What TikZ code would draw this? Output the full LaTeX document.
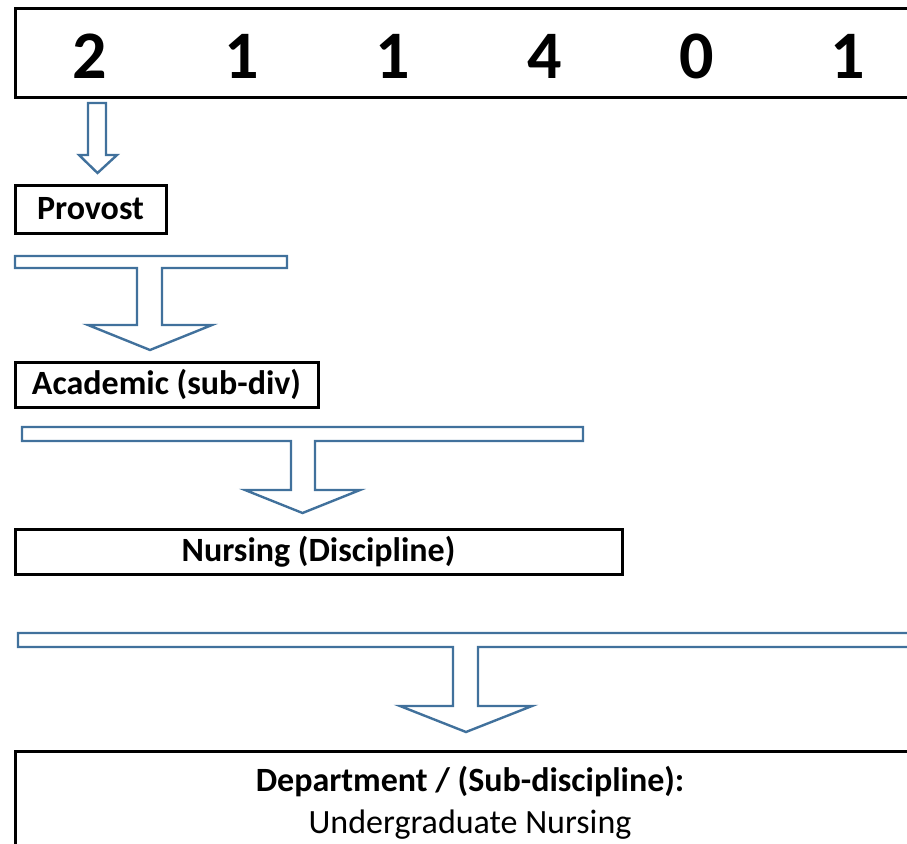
\documentclass[tikz,border=0pt]{standalone}
\usepackage{fontspec}
\setmainfont{Carlito}
\definecolor{arrowblue}{RGB}{65,113,156}
\begin{document}
\begin{tikzpicture}[x=1pt,y=-1pt,
  box/.style={draw=black,line width=3pt,inner sep=0pt,font=\bfseries\fontsize{34}{40}\selectfont},
  label/.style={inner sep=0pt,font=\fontsize{34}{40}\selectfont},
  digit/.style={inner sep=0pt,font=\bfseries\fontsize{68}{80}\selectfont},
  hollow/.style={draw=arrowblue,line width=2.4pt,fill=white,line join=miter}]
\useasboundingbox (0,0) rectangle (907,843);
\clip (0,0) rectangle (907,843);

% code strip
\draw[line width=3pt] (930,9) -- (15,9) -- (15,97) -- (930,97);
\foreach \d/\x [count=\i] in {2/90,1/242,1/393,4/545,0/697,1/848}
  \node[digit] (d\i) at (\x,56) {\d};

% hierarchy boxes
\node[box,minimum width=151pt,minimum height=48pt] (provost) at (90.5,209) {Provost};
\node[box,minimum width=303pt,minimum height=45pt] (academic) at (166.5,384.5) {Academic (sub-div)};
\node[box,minimum width=607pt,minimum height=45pt] (nursing) at (318.5,552) {Nursing (Discipline)};
\draw[line width=3pt] (930,751) -- (15,751) -- (15,860);
\node[label,font=\bfseries\fontsize{34}{40}\selectfont] (dept) at (470,782) {Department / (Sub-discipline):};
\node[label] (ug) at (470,825) {Undergraduate Nursing};

% simple block arrow below the first digit
\draw[hollow] (88,103) -- (106,103) -- (106,155) -- (117,155) -- (97.5,173)
  -- (79,155) -- (88,155) -- cycle;

% T-shaped block arrows
\draw[hollow] (15,256) -- (287,256) -- (287,268) -- (162,268) -- (162,325) -- (212,325)
  -- (150,350) -- (88,325) -- (137,325) -- (137,268) -- (15,268) -- cycle;
\draw[hollow] (22,427) -- (583,427) -- (583,441) -- (315,441) -- (315,490) -- (360,490)
  -- (302.5,513) -- (245,490) -- (291,490) -- (291,441) -- (22,441) -- cycle;
\draw[hollow] (18,633) -- (930,633) -- (930,647) -- (478,647) -- (478,706) -- (532,706)
  -- (466,732) -- (400,706) -- (453,706) -- (453,647) -- (18,647) -- cycle;
\end{tikzpicture}
\end{document}
